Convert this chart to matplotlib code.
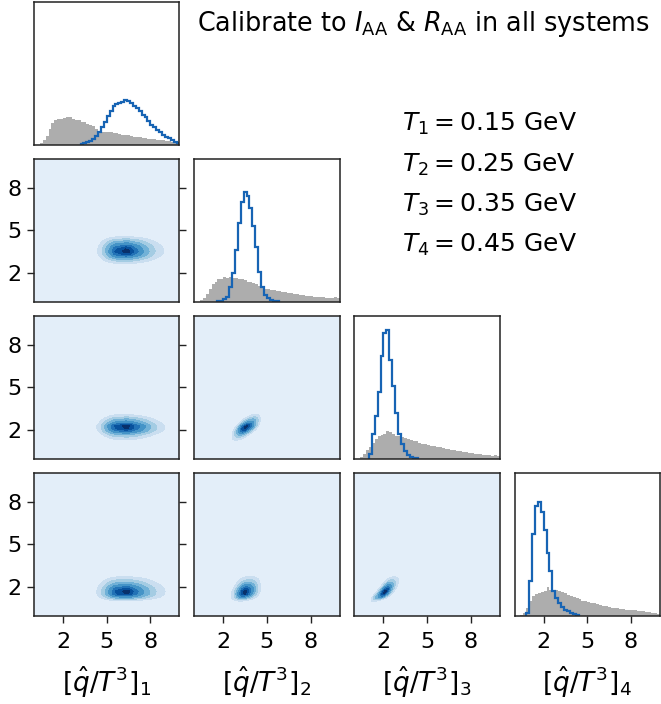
import math
import numpy as np
import matplotlib.pyplot as plt
from matplotlib import cm

# Corner plot of qhat/T^3 at four temperatures: prior (gray) vs posterior (blue).

edges = np.linspace(0, 10, 51)
centers = 0.5 * (edges[:-1] + edges[1:])
bin_w = 0.2

x_labels = [r"$[\hat{q}/T^3]_1$", r"$[\hat{q}/T^3]_2$",
            r"$[\hat{q}/T^3]_3$", r"$[\hat{q}/T^3]_4$"]
temp_labels = [r"$T_1 = 0.15$ GeV", r"$T_2 = 0.25$ GeV",
               r"$T_3 = 0.35$ GeV", r"$T_4 = 0.45$ GeV"]
title = r"Calibrate to $I_{\rm AA}$ & $R_{\rm AA}$ in all systems"
ticks = [2, 5, 8]

# prior densities, 0.2-wide bins on [0, 10]
prior_1 = [0, 0, 0.01, 0.03, 0.06, 0.11, 0.15, 0.17, 0.18, 0.18,
           0.185, 0.19, 0.19, 0.18, 0.175, 0.17, 0.16, 0.155, 0.145, 0.14,
           0.13, 0.11, 0.095, 0.09, 0.09, 0.088, 0.085, 0.082, 0.078, 0.075,
           0.07, 0.066, 0.064, 0.06, 0.056, 0.054, 0.05, 0.048, 0.045, 0.04,
           0.04, 0.036, 0.034, 0.03, 0.03, 0.026, 0.024, 0.02, 0.016, 0.012]
prior_2 = [0, 0, 0.01, 0.025, 0.05, 0.09, 0.12, 0.14, 0.155, 0.16,
           0.175, 0.165, 0.17, 0.165, 0.165, 0.16, 0.155, 0.15, 0.14, 0.135,
           0.13, 0.12, 0.11, 0.1, 0.09, 0.085, 0.08, 0.078, 0.075, 0.072,
           0.07, 0.066, 0.062, 0.058, 0.055, 0.052, 0.048, 0.045, 0.042, 0.04,
           0.038, 0.035, 0.033, 0.032, 0.03, 0.028, 0.027, 0.025, 0.03, 0.028]
prior_3 = [0, 0, 0.01, 0.03, 0.06, 0.08, 0.11, 0.14, 0.16, 0.165,
           0.17, 0.19, 0.185, 0.17, 0.16, 0.155, 0.15, 0.145, 0.14, 0.13,
           0.125, 0.12, 0.11, 0.105, 0.1, 0.095, 0.09, 0.088, 0.083, 0.08,
           0.075, 0.07, 0.066, 0.062, 0.058, 0.055, 0.05, 0.048, 0.045, 0.042,
           0.04, 0.035, 0.033, 0.03, 0.028, 0.025, 0.022, 0.02, 0.025, 0.02]
prior_4 = [0, 0, 0.005, 0.02, 0.05, 0.1, 0.14, 0.15, 0.16, 0.165,
           0.175, 0.2, 0.18, 0.175, 0.18, 0.175, 0.165, 0.155, 0.145, 0.135,
           0.13, 0.125, 0.115, 0.105, 0.1, 0.095, 0.09, 0.085, 0.078, 0.075,
           0.07, 0.066, 0.06, 0.056, 0.052, 0.05, 0.047, 0.045, 0.042, 0.04,
           0.038, 0.036, 0.034, 0.032, 0.03, 0.028, 0.024, 0.02, 0.015, 0.012]

# posterior densities, 0.2-wide bins starting at post_lo
post_lo = [3.2, 1.6, 1.0, 0.8]
post_1 = [0.005, 0.008, 0.015, 0.025, 0.04, 0.06, 0.085, 0.12, 0.16, 0.2,
          0.235, 0.27, 0.285, 0.29, 0.3, 0.31, 0.305, 0.29, 0.27, 0.255,
          0.235, 0.21, 0.19, 0.165, 0.14, 0.12, 0.1, 0.085, 0.07, 0.055,
          0.045, 0.03, 0.02, 0.008]
post_2 = [0.003, 0.006, 0.015, 0.035, 0.1, 0.2, 0.36, 0.55, 0.7, 0.77,
          0.74, 0.66, 0.53, 0.38, 0.21, 0.1, 0.045, 0.025, 0.012, 0.006,
          0.003]
post_3 = [0.03, 0.175, 0.3, 0.47, 0.72, 0.88, 0.9, 0.69, 0.51, 0.32,
          0.175, 0.105, 0.05, 0.025, 0.012, 0.006, 0.003]
post_4 = [0.02, 0.245, 0.57, 0.77, 0.8, 0.73, 0.6, 0.44, 0.31, 0.175,
          0.12, 0.09, 0.06, 0.04, 0.03, 0.018, 0.01, 0.004]

# correlation between parameters (row, col) in the joint posterior
pair_rho = {(1, 0): 0.0, (2, 0): 0.0, (2, 1): 0.65,
            (3, 0): 0.0, (3, 1): 0.3, (3, 2): 0.75}

priors = [prior_1, prior_2, prior_3, prior_4]
posts = [post_1, post_2, post_3, post_4]

# enclosed posterior mass for the filled contour levels
masses = [0.8, 0.65, 0.5, 0.35, 0.2, 0.1, 0.02]

grid = np.linspace(0, 10, 241)
dx = grid[1] - grid[0]
zz = np.linspace(-5, 5, 2001)
phi_tab = 0.5 * (1 + np.array([math.erf(z / math.sqrt(2)) for z in zz]))


def marginal(k):
    vals = np.asarray(posts[k])
    lo = post_lo[k]
    hi = lo + bin_w * len(vals)
    c = lo + bin_w * (np.arange(len(vals)) + 0.5)
    f = np.interp(grid, np.r_[lo, c, hi], np.r_[0, vals, 0], left=0, right=0)
    f = f / (f.sum() * dx)
    cdf = np.clip((np.cumsum(f) - 0.5 * f) * dx, 1e-4, 1 - 1e-4)
    return f, np.interp(cdf, phi_tab, zz)


def joint(kx, ky, r):
    fx, zx = marginal(kx)
    fy, zy = marginal(ky)
    Zx, Zy = np.meshgrid(zx, zy)
    cop = np.exp(-(r**2 * (Zx**2 + Zy**2) - 2 * r * Zx * Zy) / (2 * (1 - r**2)))
    cop /= math.sqrt(1 - r**2)
    return cop * fy[:, None] * fx[None, :]


def mass_levels(d):
    flat = np.sort(d.ravel())[::-1]
    cum = np.cumsum(flat)
    cum /= cum[-1]
    thr = [flat[np.searchsorted(cum, m)] for m in masses]
    return [0] + thr + [d.max() * 1.001]


fig, axes = plt.subplots(4, 4, figsize=(6.61, 7.04), dpi=100,
                         gridspec_kw=dict(left=0.0514, right=0.9985,
                                          top=0.997, bottom=0.1257,
                                          wspace=0.101, hspace=0.102))

blue = "#1764b4"
gray = "#adadad"
band_colors = cm.Blues(np.linspace(0.1, 1.0, len(masses) + 1))

for i in range(4):
    for j in range(4):
        ax = axes[i, j]
        if j > i:
            ax.axis("off")
            continue
        for s in ax.spines.values():
            s.set_linewidth(1.1)
            s.set_color("#222222")
        ax.set_xlim(0, 10)
        ax.set_xticks(ticks)
        ax.tick_params(labelsize=16, length=5, width=1.0, color="#222222")
        ax.tick_params(axis="x", pad=7)
        ax.tick_params(axis="y", pad=4)
        if i == j:
            ax.hist(centers, bins=edges, weights=priors[i],
                    histtype="stepfilled", color=gray)
            lo = post_lo[i]
            pe = lo + bin_w * np.arange(len(posts[i]) + 1)
            pc = 0.5 * (pe[:-1] + pe[1:])
            ax.hist(pc, bins=pe, weights=posts[i], histtype="step",
                    color=blue, lw=1.6)
            ax.set_ylim(0, 1)
            ax.set_yticks([])
            ax.tick_params(bottom=(i == 3), labelbottom=(i == 3))
        else:
            d = joint(j, i, pair_rho[(i, j)])
            ax.contourf(grid, grid, d, levels=mass_levels(d), colors=band_colors)
            ax.set_ylim(0, 10)
            ax.set_yticks(ticks)
            ax.tick_params(left=(j == 0), right=(j == 0), labelleft=(j == 0),
                           bottom=(i == 3), labelbottom=(i == 3))
        if i == 3:
            ax.set_xlabel(x_labels[j], fontsize=19, labelpad=9)

fig.text(197 / 661, 1 - 31 / 704, title, fontsize=18.4, va="baseline")
for k, t in enumerate(temp_labels):
    fig.text(402 / 661, 1 - (131 + 40.3 * k) / 704, t, fontsize=18, va="baseline")

fig.savefig("out.png", dpi=100)
